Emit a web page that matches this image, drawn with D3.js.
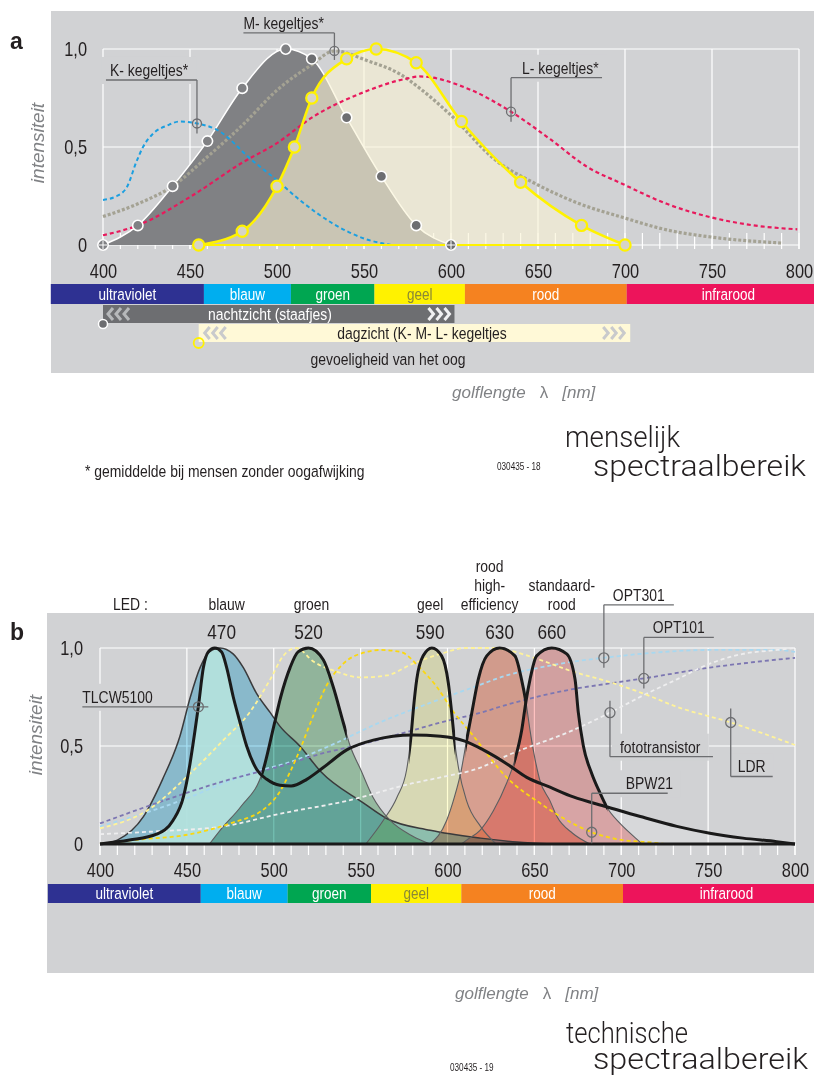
<!DOCTYPE html>
<html>
<head>
<meta charset="utf-8">
<title>Spectraalbereik</title>
<script src="https://d3js.org/d3.v7.min.js"></script>
<style>
  body { margin: 0; background: #fff; }
  svg { display: block; }
  text { font-family: "Liberation Sans", Arial, sans-serif; fill: #231f20; }
  .it { font-family: "Liberation Sans", Arial, sans-serif; font-style: italic; fill: #808285; }
  .titel { font-family: Roboto, "Liberation Sans", sans-serif; font-weight: 300; }
</style>
</head>
<body>
<script>
// ---------- gedeelde data ----------
const bandNames  = ["ultraviolet", "blauw", "groen", "geel", "rood", "infrarood"];
const bandEdges  = [370, 458, 508, 556, 608, 701, 830];            // nm
const bandColors = ["#2e3192", "#00aeef", "#00a651", "#fff200", "#f58220", "#ed145b"];
const bandText   = ["#fff", "#fff", "#fff", "#8a8836", "#fff", "#fff"];
const xTicks = [400, 450, 500, 550, 600, 650, 700, 750, 800];
const yTicks = [0, 0.5, 1];

// ---------- a: menselijk spectraalbereik ----------
const staafjes = [[400,0],[420,0.1],[440,0.3],[460,0.53],[480,0.8],[505,1],[520,0.95],[540,0.65],[560,0.35],[580,0.1],[600,0]];
const dagzicht = [[455,0],[480,0.07],[500,0.3],[510,0.5],[520,0.75],[540,0.95],[557,1],[580,0.93],[606,0.63],[640,0.32],[675,0.1],[700,0]];
const kKegel = [[400,0.23],[408,0.25],[414,0.3],[419,0.42],[423,0.5],[429,0.57],[437,0.61],[444,0.63],[454,0.62],[465,0.59],[486,0.43],[500,0.33],[513,0.23],[532,0.11],[551,0.03],[566,0]];
const mKegel = [[400,0.145],[420,0.21],[440,0.3],[460,0.45],[480,0.61],[500,0.79],[520,0.92],[533,0.99],[552,0.94],[571,0.87],[582,0.8],[599,0.67],[626,0.43],[647,0.32],[674,0.21],[699,0.14],[724,0.077],[750,0.04],[790,0.01]];
const lKegel = [[400,0.05],[420,0.1],[450,0.245],[480,0.42],[500,0.52],[520,0.65],[550,0.78],[575,0.85],[582,0.86],[609,0.8],[634.5,0.68],[657,0.54],[678,0.4],[699,0.31],[724,0.21],[750,0.14],[774,0.1],[799,0.08]];
const nachtzicht = [400, 602];   // nm
const dagbereik  = [455, 703];   // nm

// ---------- b: technisch spectraalbereik ----------
const ledPeaks = [470, 520, 590, 630, 660];
const ledNames = [["blauw"], ["groen"], ["geel"], ["rood", "high-", "efficiency"], ["standaard-", "rood"]];
const blauwLED = [[402,0],[410,0.02],[425,0.14],[436,0.33],[446,0.55],[452,0.75],[457.6,0.9],[463,0.98],[469,1],[476.6,0.97],[482.5,0.9],[490,0.77],[498,0.67],[503.6,0.6],[515,0.5],[527,0.37],[551.5,0.21],[565,0.13],[590,0.07],[619,0.03],[640,0.01],[660,0]];
const groenLED = [[463,0],[471,0.09],[481,0.19],[494,0.38],[500,0.6],[504,0.75],[509.4,0.9],[514,0.98],[520,1],[528.5,0.94],[534.3,0.8],[540,0.62],[544,0.5],[550,0.38],[557,0.24],[567,0.12],[580,0.04],[590,0]];
const geelLED  = [[553,0],[563,0.12],[571,0.24],[576.5,0.38],[579,0.55],[580.5,0.7],[582.3,0.84],[586,0.96],[591,1],[596.6,0.96],[600.5,0.82],[602.4,0.67],[604,0.53],[606.5,0.38],[611,0.22],[619,0.09],[628,0]];
const roodHE   = [[590,0],[599.5,0.12],[604,0.24],[608,0.38],[611,0.53],[614,0.67],[617.7,0.84],[622.6,0.96],[630,1],[638.8,0.96],[642.6,0.84],[645.2,0.72],[647.5,0.58],[650,0.45],[653,0.33],[659,0.22],[663,0.14],[672,0.055],[682,0]];
const roodStd  = [[608,0],[611,0.02],[618.7,0.07],[626.4,0.17],[634,0.31],[638.8,0.43],[642.7,0.58],[645.2,0.73],[647.5,0.84],[651.3,0.96],[660,1],[668.6,0.97],[673.4,0.84],[675.3,0.67],[678.2,0.5],[683,0.36],[687.8,0.26],[691.6,0.19],[699.3,0.105],[707,0.04],[712,0]];
const tlcw5100 = [[400,0],[417,0.02],[432.6,0.05],[442,0.12],[448,0.24],[451.8,0.41],[454.7,0.58],[456.6,0.7],[459.5,0.9],[462.3,0.98],[466,1],[470,0.98],[472.9,0.9],[476.7,0.75],[480.6,0.62],[484.4,0.5],[490.2,0.38],[496,0.33],[503.6,0.3],[510,0.296],[519,0.33],[528.5,0.39],[542,0.48],[557.3,0.53],[580,0.556],[596,0.55],[610,0.525],[620.6,0.48],[634,0.41],[645.6,0.34],[659,0.29],[672.4,0.24],[691.6,0.19],[711,0.14],[732,0.09],[751,0.055],[770,0.03],[789.5,0.012],[800,0]];
const opt301 = [[400,0.09],[430,0.17],[452,0.24],[471,0.31],[490,0.37],[510,0.42],[532,0.5],[561,0.62],[590,0.72],[615,0.8],[634,0.86],[653,0.9],[672,0.93],[690,0.95],[711,0.97],[751,0.99],[790,0.99],[800,0.98]];
const opt101 = [[400,0.105],[433,0.21],[471,0.32],[509,0.41],[523,0.45],[551,0.51],[580,0.58],[596,0.62],[619,0.67],[634,0.71],[672,0.79],[694,0.82],[713,0.845],[751,0.9],[800,0.95]];
const fototransistor = [[400,0.05],[433,0.065],[471,0.09],[504,0.155],[542,0.22],[580,0.31],[596,0.34],[619,0.39],[634,0.45],[672,0.58],[693.5,0.67],[713,0.76],[732,0.84],[751,0.92],[770,0.97],[790,0.99],[800,1]];
const ldr = [[400,0.08],[427,0.17],[452,0.36],[471,0.53],[486,0.67],[498,0.84],[505.5,0.96],[513,1],[523,0.93],[536,0.88],[550,0.85],[565,0.86],[580,0.92],[596,0.97],[611,1],[625,1],[634,0.99],[653,0.94],[672,0.88],[692,0.83],[712,0.77],[732,0.7],[763,0.62],[800,0.505]];
const bpw21 = [[400,0],[419,0.02],[452,0.05],[475,0.105],[496,0.19],[503,0.26],[509,0.36],[515,0.48],[523,0.66],[530.5,0.81],[540,0.92],[553.5,0.98],[561,0.99],[573,0.98],[584,0.9],[594,0.8],[603,0.68],[615,0.55],[634,0.34],[653,0.21],[672,0.105],[683,0.06],[701,0.02],[715,0.01],[725,0]];

// ---------- opzet ----------
const W = 814, H = 1077, BG = "#d1d2d4";
const svg = d3.select("body").append("svg").attr("width", W).attr("height", H);
svg.append("rect").attr("width", W).attr("height", H).attr("fill", "#fff");
const defs = svg.append("defs");

const fmt = d => d === 0 ? "0" : d3.format(".1f")(d).replace(".", ",");
const valAt = (data, nm) => data.find(d => d[0] === nm)[1];

function clipRect(id, x, y, w, h) {
  defs.append("clipPath").attr("id", id).append("rect").attr("x", x).attr("y", y).attr("width", w).attr("height", h);
  return `url(#${id})`;
}

function grid(g, x, y, vBottom, tTop, tBottom) {
  g.append("g").selectAll("line").data(xTicks).join("line")
    .attr("x1", d => x(d)).attr("x2", d => x(d)).attr("y1", y(1)).attr("y2", vBottom)
    .attr("stroke", "#fff").attr("stroke-width", 1.2);
  g.append("g").selectAll("line").data(yTicks).join("line")
    .attr("x1", x(400)).attr("x2", x(800)).attr("y1", d => y(d)).attr("y2", d => y(d))
    .attr("stroke", "#fff").attr("stroke-width", 1.2);
  g.append("g").selectAll("line").data(d3.range(400, 801, 10)).join("line")
    .attr("x1", d => x(d)).attr("x2", d => x(d)).attr("y1", tTop).attr("y2", tBottom)
    .attr("stroke", "#fff").attr("stroke-width", 1.2);
}

function axes(g, x, y, padLeft) {
  const ax = g.append("g").attr("transform", `translate(0,${y(0)})`)
    .call(d3.axisBottom(x).tickValues(xTicks).tickSize(0).tickPadding(19));
  ax.select(".domain").remove();
  ax.attr("font-size", 20).attr("font-family", null);
  const ay = g.append("g").attr("transform", `translate(${x(400)},0)`)
    .call(d3.axisLeft(y).tickValues(yTicks).tickFormat(fmt).tickSize(0).tickPadding(padLeft));
  ay.select(".domain").remove();
  ay.attr("font-size", 20).attr("font-family", null);
}

function band(g, x, top, h) {
  const segs = bandNames.map((n, i) => ({ n, i, a: bandEdges[i], b: bandEdges[i + 1] }));
  g.append("g").selectAll("rect").data(segs).join("rect")
    .attr("x", d => x(d.a)).attr("width", d => x(d.b) - x(d.a))
    .attr("y", top).attr("height", h).attr("fill", d => bandColors[d.i]);
  g.append("g").selectAll("text").data(segs).join("text")
    .attr("x", d => (x(d.a) + Math.min(x(d.b), W + 16)) / 2).attr("y", top + h / 2 + 6)
    .attr("text-anchor", "middle").attr("font-size", 16.5)
    .style("fill", d => bandText[d.i]).text(d => d.n);
}

function golflengte(g, x, y) {
  const t = g.append("text").attr("class", "keep").attr("x", x).attr("y", y).attr("font-size", 17);
  t.append("tspan").attr("class", "it").text("golflengte");
  t.append("tspan").attr("dx", 14).style("fill", "#808285").text("λ");
  t.append("tspan").attr("class", "it").attr("dx", 14).text("[nm]");
}

function intensiteit(g, x, y) {
  g.append("text").attr("class", "it").attr("font-size", 19).attr("text-anchor", "middle")
    .attr("transform", `translate(${x},${y}) rotate(-90)`).text("intensiteit");
}

function chevrons(g, x0, yc, dir, color) {
  for (let i = 0; i < 3; i++) {
    const x = x0 + i * 8;
    g.append("path")
      .attr("d", dir < 0 ? `M${x + 5},${yc - 6}L${x},${yc}L${x + 5},${yc + 6}` : `M${x},${yc - 6}L${x + 5},${yc}L${x},${yc + 6}`)
      .attr("fill", "none").attr("stroke", color).attr("stroke-width", 3);
  }
}

function annotate(gLine, gKnock, data, nm, s, text, x, y, r) {
  const mx = x(nm), my = y(valAt(data, nm));
  const ly = my + s.v1;
  if (s.v0 !== s.v1) gLine.append("line").attr("x1", mx).attr("x2", mx).attr("y1", my + s.v0).attr("y2", ly);
  gLine.append("line").attr("x1", mx + (s.h0 || 0)).attr("x2", mx + s.h).attr("y1", ly).attr("y2", ly);
  gLine.append("circle").attr("cx", mx).attr("cy", my).attr("r", r).attr("fill", "none");
  const t = gLine.append("text").attr("x", mx + s.tx).attr("y", ly - 4).attr("font-size", 17).attr("stroke", "none").text(text);
  const bb = t.node().getBBox();
  const w = bb.width * 0.82;
  gKnock.append("rect").attr("x", bb.x - 8).attr("y", bb.y - 4).attr("width", w + 16).attr("height", bb.height + 8).attr("fill", BG);
}

// smalle letter (Helvetica Condensed): Liberation Sans horizontaal samengedrukt
function narrow(sel) {
  sel.selectAll("text").each(function () {
    const t = d3.select(this);
    if (t.classed("it") || t.classed("keep") || t.attr("transform") || t.attr("textLength")) return;
    const x = +t.attr("x") || 0, y = +t.attr("y") || 0;
    t.attr("transform", `translate(${x},${y}) scale(0.82,1) translate(${-x},${-y})`);
  });
}

function titel(g, x, y, len, s) {
  g.append("text").attr("class", "titel").attr("x", x).attr("y", y).attr("font-size", 29)
    .attr("textLength", len).attr("lengthAdjust", "spacingAndGlyphs").text(s);
}

// =============== chart a ===============
const xA = d3.scaleLinear([400, 800], [103, 799]);
const yA = d3.scaleLinear([0, 1], [245, 49]);
const gA = svg.append("g");
gA.append("rect").attr("x", 51).attr("y", 11).attr("width", W - 51).attr("height", 362).attr("fill", BG);
gA.append("text").attr("class", "keep").attr("x", 10).attr("y", 49).attr("font-size", 23).attr("font-weight", "bold").text("a");
const gridA = gA.append("g"), knockA = gA.append("g"), curvesA = gA.append("g"), annoA = gA.append("g");
knockA.attr("clip-path", clipRect("plotA", xA(400) - 3, yA(1) + 1.5, xA(800) - xA(400) + 6, yA(0) - yA(1) - 3));
grid(gridA, xA, yA, 249, 233, 249);

const areaA = d3.area().curve(d3.curveMonotoneX).x(d => xA(d[0])).y0(yA(0)).y1(d => yA(d[1]));
const lineA = d3.line().curve(d3.curveMonotoneX).x(d => xA(d[0])).y(d => yA(d[1]));

curvesA.append("path").datum(staafjes).attr("d", areaA).attr("fill", "#808184");
curvesA.append("path").datum(staafjes).attr("d", lineA).attr("fill", "none").attr("stroke", "#fff").attr("stroke-width", 1.5);
curvesA.append("path").datum(dagzicht).attr("d", areaA).attr("fill", "rgb(250,244,212)").attr("fill-opacity", 0.6);

[[mKegel, "#a4a293", 3.2, "3,2"], [kKegel, "#1b9fe0", 2, "4,3"], [lKegel, "#e8195c", 2.2, "4,3"]].forEach(([d, c, w, da]) => {
  curvesA.append("path").datum(d).attr("d", lineA).attr("fill", "none")
    .attr("stroke", c).attr("stroke-width", w).attr("stroke-dasharray", da);
});
curvesA.append("line").attr("x1", xA(dagzicht[0][0])).attr("x2", xA(dagzicht[dagzicht.length - 1][0]))
  .attr("y1", yA(0)).attr("y2", yA(0)).attr("stroke", "#fff200").attr("stroke-width", 2);
curvesA.append("path").datum(dagzicht).attr("d", lineA).attr("fill", "none").attr("stroke", "#fff200").attr("stroke-width", 2.6);

curvesA.append("g").selectAll("circle").data(staafjes).join("circle")
  .attr("cx", d => xA(d[0])).attr("cy", d => yA(d[1])).attr("r", 5.2)
  .attr("fill", d => d[0] > 510 ? "#6d6e71" : "#808184").attr("stroke", "#fff").attr("stroke-width", 1.6);
curvesA.append("g").selectAll("path").data(staafjes.filter(d => d[1] === 0)).join("path")
  .attr("d", d => `M${xA(d[0]) - 4},${yA(0)}h8M${xA(d[0])},${yA(0) - 4}v8`).attr("stroke", "#fff").attr("stroke-width", 1);
curvesA.append("g").selectAll("circle").data(dagzicht).join("circle")
  .attr("cx", d => xA(d[0])).attr("cy", d => yA(d[1])).attr("r", 5.6)
  .attr("fill", "#d6d4c6").attr("stroke", "#fff200").attr("stroke-width", 2.2);

annoA.attr("stroke", "#6d6e71").attr("stroke-width", 1.3);
annotate(annoA, knockA, kKegel, 454, { v0: 10, v1: -43.5, h: -91, tx: -87 }, "K- kegeltjes*", xA, yA, 4.5);
annotate(annoA, knockA, mKegel, 533, { v0: 9, v1: -18, h: -91, tx: -91 }, "M- kegeltjes*", xA, yA, 4.5);
annotate(annoA, knockA, lKegel, 634.5, { v0: 10, v1: -34, h: 91, tx: 11 }, "L- kegeltjes*", xA, yA, 4.5);

axes(gA, xA, yA, 16);
intensiteit(gA, 44, 143);
band(gA, xA, 284, 20);

// nachtzicht / dagzicht balken
const barsA = gA.append("g");
barsA.append("rect").attr("x", xA(nachtzicht[0])).attr("y", 305).attr("width", xA(nachtzicht[1]) - xA(nachtzicht[0])).attr("height", 18).attr("fill", "#6d6e71");
barsA.append("rect").attr("x", xA(dagbereik[0])).attr("y", 324).attr("width", xA(dagbereik[1]) - xA(dagbereik[0])).attr("height", 18).attr("fill", "#fff9d7");
chevrons(barsA, xA(nachtzicht[0]) + 5, 314, -1, "#b6b8ba");
chevrons(barsA, xA(nachtzicht[1]) - 26, 314, 1, "#f1f1f2");
chevrons(barsA, xA(dagbereik[0]) + 6, 333, -1, "#c9cacc");
chevrons(barsA, xA(dagbereik[1]) - 27, 333, 1, "#c9cacc");
barsA.append("text").attr("x", 270).attr("y", 320).attr("text-anchor", "middle").attr("font-size", 17).style("fill", "#fff").text("nachtzicht  (staafjes)");
barsA.append("text").attr("x", 422).attr("y", 339).attr("text-anchor", "middle").attr("font-size", 17).text("dagzicht  (K- M- L- kegeltjes");
barsA.append("circle").attr("cx", xA(nachtzicht[0])).attr("cy", 324).attr("r", 4.5).attr("fill", "#6d6e71").attr("stroke", "#fff").attr("stroke-width", 1.5);
barsA.append("circle").attr("cx", xA(dagbereik[0])).attr("cy", 343).attr("r", 5).attr("fill", "none").attr("stroke", "#fff200").attr("stroke-width", 1.8);
gA.append("text").attr("x", 388).attr("y", 365).attr("text-anchor", "middle").attr("font-size", 17).text("gevoeligheid van het oog");

golflengte(gA, 452, 398);
gA.append("text").attr("x", 85).attr("y", 477).attr("font-size", 17).text("* gemiddelde bij mensen zonder oogafwijking");
gA.append("text").attr("x", 497).attr("y", 470).attr("font-size", 10).text("030435 - 18");
titel(gA, 565, 447, 115, "menselijk");
titel(gA, 593, 476, 213, "spectraalbereik");
narrow(gA);

// =============== chart b ===============
const xB = d3.scaleLinear([400, 800], [100, 795]);
const yB = d3.scaleLinear([0, 1], [844, 648]);
const gB = svg.append("g");
gB.append("rect").attr("x", 47).attr("y", 613).attr("width", W - 47).attr("height", 360).attr("fill", BG);
gB.append("text").attr("class", "keep").attr("x", 10).attr("y", 640).attr("font-size", 23).attr("font-weight", "bold").text("b");
const gridB = gB.append("g"), knockB = gB.append("g"), curvesB = gB.append("g"), annoB = gB.append("g");
knockB.attr("clip-path", clipRect("plotB", xB(400) - 3, yB(1) + 1.5, xB(800) - xB(400) + 6, yB(0) - yB(1) - 3));
grid(gridB, xB, yB, 855, 844, 855);

const areaB = d3.area().curve(d3.curveMonotoneX).x(d => xB(d[0])).y0(yB(0)).y1(d => yB(d[1]));
const lineB = d3.line().curve(d3.curveMonotoneX).x(d => xB(d[0])).y(d => yB(d[1]));

const leds = [blauwLED, groenLED, geelLED, roodHE, roodStd];
const ledFill = ["#a7e1f5", "#b1dbba", "#ffffd3", "#ffbca8", "#ffc2c1"];
const thick = [null, [493, 542], [578, 604.5], [610.5, 645.3], [638.5, 692]];

// lichtblauwe piek van de witte LED alleen boven de linkerflank van groen
const gLeft = groenLED.filter(d => d[0] <= 510);
defs.append("clipPath").attr("id", "tlcwPiek").append("path")
  .attr("d", `M${xB(396)},600L${xB(396)},${yB(0) + 10}L${xB(gLeft[0][0])},${yB(0) + 10}` +
    lineB(gLeft).replace(/^M/, "L") + `L${xB(gLeft[gLeft.length - 1][0])},600Z`);

curvesB.append("path").datum(tlcw5100).attr("d", areaB).attr("fill", "#fff").attr("fill-opacity", 0.14);
leds.forEach((d, i) => {
  curvesB.append("path").datum(d).attr("d", areaB).attr("fill", ledFill[i]).style("mix-blend-mode", "multiply");
  if (i === 0) {
    curvesB.append("path").datum(tlcw5100).attr("d", areaB).attr("fill", "#b5e2dd").attr("fill-opacity", 0.9)
      .attr("clip-path", "url(#tlcwPiek)");
  }
});
leds.forEach((d, i) => {
  curvesB.append("path").datum(d).attr("d", lineB).attr("fill", "none")
    .attr("stroke", i === 0 ? "#3a3a3c" : "#5d5e60").attr("stroke-width", i === 0 ? 1.5 : 1.1);
});

const detectors = [[opt301, "#a8d8f0"], [opt101, "#7c76b2"], [fototransistor, "#eeeeef"], [ldr, "#fff39a"], [bpw21, "#fbd80f"]];
detectors.forEach(([d, c]) => {
  curvesB.append("path").datum(d).attr("d", lineB).attr("fill", "none")
    .attr("stroke", c).attr("stroke-width", 1.8).attr("stroke-dasharray", "4,3");
});

leds.forEach((d, i) => {
  if (!thick[i]) return;
  curvesB.append("path").datum(d).attr("d", lineB).attr("fill", "none")
    .attr("stroke", "#1a1a1a").attr("stroke-width", 3)
    .attr("clip-path", clipRect("dik" + i, xB(thick[i][0]), 600, xB(thick[i][1]) - xB(thick[i][0]), 300));
});
curvesB.append("path").datum(tlcw5100).attr("d", lineB).attr("fill", "none").attr("stroke", "#1a1a1a").attr("stroke-width", 3);
curvesB.append("line").attr("x1", xB(400)).attr("x2", xB(800)).attr("y1", yB(0)).attr("y2", yB(0)).attr("stroke", "#1a1a1a").attr("stroke-width", 3);

annoB.attr("stroke", "#6d6e71").attr("stroke-width", 1.3);
annotate(annoB, knockB, tlcw5100, 456.6, { v0: 0, v1: 0, h0: 10, h: -116, tx: -116 }, "TLCW5100", xB, yB, 5);
annotate(annoB, knockB, opt301, 690, { v0: 10, v1: -53, h: 70, tx: 9 }, "OPT301", xB, yB, 5);
annotate(annoB, knockB, opt101, 713, { v0: 10, v1: -41, h: 70, tx: 9 }, "OPT101", xB, yB, 5);
annotate(annoB, knockB, fototransistor, 693.5, { v0: -12, v1: 44, h: 103, tx: 10 }, "fototransistor", xB, yB, 5);
annotate(annoB, knockB, ldr, 763, { v0: -14, v1: 54, h: 42, tx: 7 }, "LDR", xB, yB, 5);
annotate(annoB, knockB, bpw21, 683, { v0: 11, v1: -39, h: 76, tx: 34 }, "BPW21", xB, yB, 5);

axes(gB, xB, yB, 17);
intensiteit(gB, 42, 735);
band(gB, xB, 884, 19);

// LED-koppen
const nameShift = [5, 3, 0, -10, 10];
gB.append("text").attr("x", 113).attr("y", 610).attr("font-size", 17).text("LED :");
ledPeaks.forEach((p, i) => {
  const lines = ledNames[i];
  lines.forEach((s, j) => {
    gB.append("text").attr("x", xB(p) + nameShift[i]).attr("y", 610 - (lines.length - 1 - j) * 19)
      .attr("text-anchor", "middle").attr("font-size", 17).text(s);
  });
  gB.append("text").attr("x", xB(p)).attr("y", 639).attr("text-anchor", "middle").attr("font-size", 21).text(p);
});

golflengte(gB, 455, 999);
gB.append("text").attr("x", 450).attr("y", 1071).attr("font-size", 10).text("030435 - 19");
titel(gB, 566, 1043, 122, "technische");
titel(gB, 593, 1069, 215, "spectraalbereik");
narrow(gB);
</script>
</body>
</html>
